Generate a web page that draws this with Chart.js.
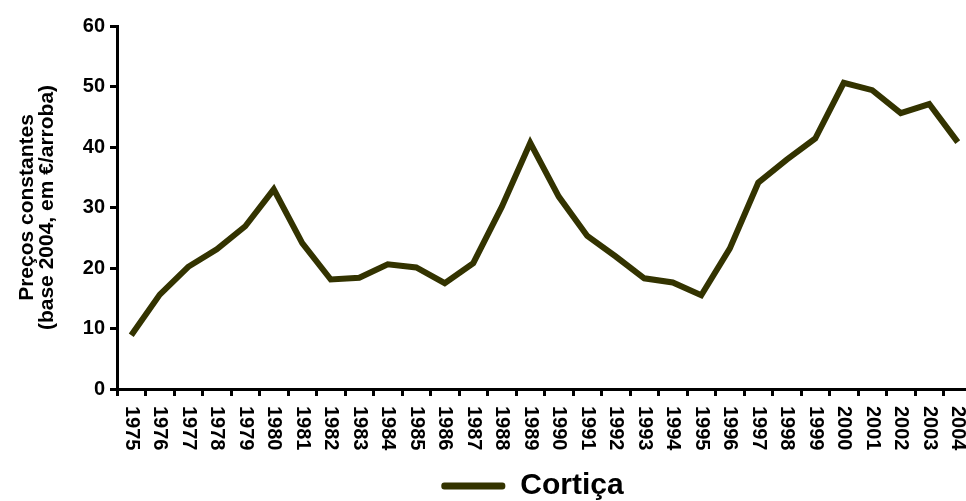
<!DOCTYPE html>
<html lang="pt">
<head>
    <meta charset="UTF-8">
    <title>Cortiça - preços constantes</title>
    <script src="https://cdn.jsdelivr.net/npm/chart.js"></script>
    <style>
        body {
            margin: 0;
            background: #ffffff;
        }
        /* the plot runs a few pixels past the right edge in the original */
        #wrap {
            width: 966px;
            height: 501px;
            overflow: hidden;
        }
    </style>
</head>
<body>

    <div id="wrap"><canvas id="chart" width="972" height="501"></canvas></div>

    <script>
        // data
        var years = ['1975', '1976', '1977', '1978', '1979', '1980', '1981', '1982', '1983', '1984',
                     '1985', '1986', '1987', '1988', '1989', '1990', '1991', '1992', '1993', '1994',
                     '1995', '1996', '1997', '1998', '1999', '2000', '2001', '2002', '2003', '2004'];
        var cortica = [8.9, 15.6, 20.2, 23.1, 26.9, 33.0, 24.1, 18.1, 18.4, 20.6,
                       20.1, 17.5, 20.8, 30.1, 40.7, 31.8, 25.3, 21.9, 18.3, 17.6,
                       15.5, 23.2, 34.1, 37.9, 41.4, 50.6, 49.4, 45.6, 47.1, 40.8];
        var yTicks = [0, 10, 20, 30, 40, 50, 60];
        var yTitle = ['Preços constantes', '(base 2004, em €/arroba)'];
        var seriesName = 'Cortiça';

        var FONT = "'Liberation Sans', Arial, sans-serif";
        var LINE = '#333300';

        // x labels read top-to-bottom, chart.js only rotates the other way
        var downLabels = {
            id: 'downLabels',
            afterDraw: function(chart) {
                var xs = chart.scales.x;
                var ctx = chart.ctx;
                ctx.save();
                ctx.font = 'bold 20px ' + FONT;
                ctx.fillStyle = '#000';
                ctx.textAlign = 'left';
                ctx.textBaseline = 'middle';
                xs.getLabels().forEach(function(lab, i) {
                    ctx.save();
                    ctx.translate(xs.getPixelForTick(i), chart.chartArea.bottom + 17);
                    ctx.rotate(Math.PI / 2);
                    ctx.fillText(lab, 0, 0);
                    ctx.restore();
                });
                ctx.restore();
            }
        };

        // legend sits a bit left of the plot centre in the original
        var nudgeLegend = {
            id: 'nudgeLegend',
            afterLayout: function(chart) {
                if (chart.legend) {
                    chart.legend.left -= 12;
                    chart.legend.right -= 12;
                }
            }
        };

        new Chart(document.getElementById('chart').getContext('2d'), {
            type: 'line',
            data: {
                labels: years,
                datasets: [{
                    label: seriesName,
                    data: cortica,
                    borderColor: LINE,
                    backgroundColor: LINE,
                    borderWidth: 6,
                    pointRadius: 0,
                    fill: false,
                    tension: 0
                }]
            },
            options: {
                responsive: false,
                animation: false,
                devicePixelRatio: 1,
                layout: {
                    padding: { top: 26, right: 0, bottom: -10, left: 0 }
                },
                scales: {
                    x: {
                        offset: true,
                        grid: {
                            offset: true,
                            drawOnChartArea: false,
                            color: '#000',
                            lineWidth: 3,
                            tickLength: 7
                        },
                        border: { color: '#000', width: 3 },
                        ticks: { display: false },
                        afterFit: function(s) { s.height = 82; }
                    },
                    y: {
                        min: 0,
                        max: 60,
                        afterBuildTicks: function(s) {
                            s.ticks = yTicks.map(function(v) { return { value: v }; });
                        },
                        grid: {
                            drawOnChartArea: false,
                            color: '#000',
                            lineWidth: 3,
                            tickLength: 7
                        },
                        border: { color: '#000', width: 3 },
                        ticks: {
                            color: '#000',
                            padding: 5,
                            font: { family: FONT, size: 20, weight: 'bold' }
                        },
                        title: {
                            display: true,
                            text: yTitle,
                            color: '#000',
                            padding: { top: 17, bottom: 0 },
                            font: { family: FONT, size: 21, weight: 'bold', lineHeight: 0.97 }
                        },
                        afterFit: function(s) { s.width = 117; }
                    }
                },
                plugins: {
                    tooltip: { enabled: false },
                    legend: {
                        position: 'bottom',
                        fullSize: false,
                        labels: {
                            color: '#000',
                            boxWidth: 64,
                            boxHeight: 7,
                            padding: 0,
                            font: { family: FONT, size: 30, weight: 'bold' },
                            generateLabels: function(chart) {
                                var items = Chart.defaults.plugins.legend.labels.generateLabels(chart);
                                items.forEach(function(it) {
                                    it.lineWidth = 0;
                                    it.borderRadius = 3;
                                });
                                return items;
                            }
                        }
                    }
                }
            },
            plugins: [downLabels, nudgeLegend]
        });
    </script>

</body>
</html>
